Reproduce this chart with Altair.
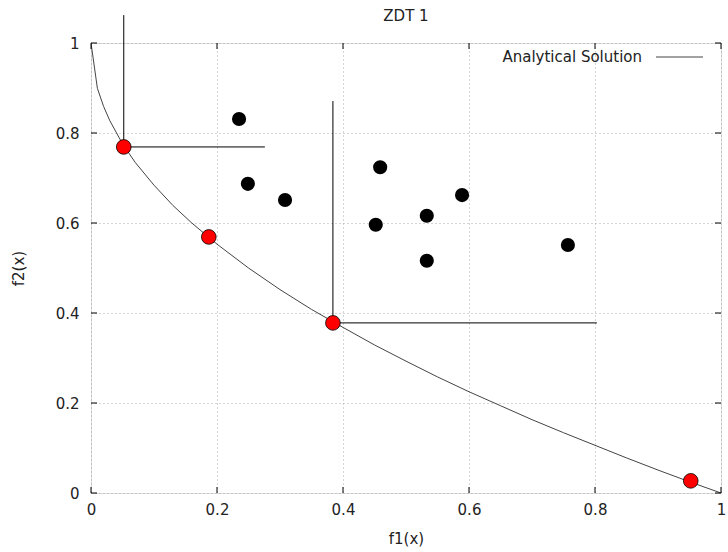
import altair as alt
import pandas as pd

FONT = "DejaVu Sans"
FS = 15
W, H = 630, 450
TICK = 6

# Analytical Pareto front of ZDT1 (f1, f2)
front_f1 = [0.0, 0.0101, 0.02, 0.03, 0.05, 0.07, 0.1, 0.13, 0.16, 0.2, 0.25, 0.3, 0.35,
            0.4, 0.45, 0.5, 0.55, 0.6, 0.65, 0.7, 0.75, 0.8, 0.85, 0.9, 0.95, 1.0]
front_f2 = [1.0, 0.8995, 0.859, 0.827, 0.776, 0.735, 0.684, 0.639, 0.6, 0.553, 0.5, 0.452, 0.408,
            0.368, 0.329, 0.293, 0.258, 0.225, 0.194, 0.163, 0.134, 0.106, 0.078, 0.051, 0.025, 0.0]

# Non-dominated solutions (red)
nd_f1 = [0.052, 0.187, 0.384, 0.952]
nd_f2 = [0.769, 0.569, 0.378, 0.027]

# Dominated solutions (black)
dom_f1 = [0.235, 0.249, 0.308, 0.459, 0.452, 0.533, 0.533, 0.589, 0.757]
dom_f2 = [0.831, 0.687, 0.651, 0.724, 0.596, 0.616, 0.516, 0.662, 0.551]

# Reference segments attached to two of the solutions
vseg_x = [0.052, 0.384]
vseg_y1 = [0.769, 0.378]
vseg_y2 = [1.062, 0.871]
hseg_y = [0.769, 0.378]
hseg_x1 = [0.052, 0.384]
hseg_x2 = [0.276, 0.803]

tick_vals = [0, 0.2, 0.4, 0.6, 0.8, 1.0]

front = pd.DataFrame({"f1": front_f1, "f2": front_f2})
nd = pd.DataFrame({"f1": nd_f1, "f2": nd_f2})
dom = pd.DataFrame({"f1": dom_f1, "f2": dom_f2})
vseg = pd.DataFrame({"x": vseg_x, "y1": vseg_y1, "y2": vseg_y2})
hseg = pd.DataFrame({"y": hseg_y, "x1": hseg_x1, "x2": hseg_x2})
ticks = pd.DataFrame({"v": tick_vals})

xs = alt.Scale(domain=[0, 1], nice=False, zero=False)
ys = alt.Scale(domain=[0, 1], nice=False, zero=False)

grid_common = dict(
    values=tick_vals, format="~g", grid=True, gridColor="#a8a8a8", gridDash=[1, 3],
    gridWidth=1, ticks=False, tickSize=0, domain=False, labelFlush=False,
    labelFont=FONT, labelFontSize=FS, labelColor="#222222",
    titleFont=FONT, titleFontSize=FS, titleFontWeight="normal", titleColor="#222222",
)

x_axis = alt.Axis(title="f1(x)", labelPadding=9, titleX=315, titleY=45,
                  titleBaseline="middle", **grid_common)
y_axis = alt.Axis(title="f2(x)", labelPadding=12, titleX=-73, titleY=225,
                  titleBaseline="middle", titleAlign="center", titleAngle=-90, **grid_common)

curve = alt.Chart(front).mark_line(color="#444444", strokeWidth=1, clip=True).encode(
    x=alt.X("f1:Q", scale=xs, axis=x_axis),
    y=alt.Y("f2:Q", scale=ys, axis=y_axis),
)

# inward tick marks on all four borders
rk = dict(color="black", strokeWidth=1)
ticks_bottom = alt.Chart(ticks).mark_rule(**rk).encode(
    x=alt.X("v:Q", scale=xs), y=alt.value(H), y2=alt.value(H - TICK))
ticks_top = alt.Chart(ticks).mark_rule(**rk).encode(
    x=alt.X("v:Q", scale=xs), y=alt.value(0), y2=alt.value(TICK))
ticks_left = alt.Chart(ticks).mark_rule(**rk).encode(
    y=alt.Y("v:Q", scale=ys), x=alt.value(0), x2=alt.value(TICK))
ticks_right = alt.Chart(ticks).mark_rule(**rk).encode(
    y=alt.Y("v:Q", scale=ys), x=alt.value(W), x2=alt.value(W - TICK))

vrules = alt.Chart(vseg).mark_rule(color="black", strokeWidth=1).encode(
    x=alt.X("x:Q", scale=xs), y=alt.Y("y1:Q", scale=ys), y2="y2:Q")
hrules = alt.Chart(hseg).mark_rule(color="black", strokeWidth=1).encode(
    y=alt.Y("y:Q", scale=ys), x=alt.X("x1:Q", scale=xs), x2="x2:Q")

dom_pts = alt.Chart(dom).mark_circle(color="black", size=200, opacity=1).encode(
    x=alt.X("f1:Q", scale=xs), y=alt.Y("f2:Q", scale=ys))
nd_pts = alt.Chart(nd).mark_point(
    shape="circle", filled=True, fill="#ff0000", stroke="black", strokeWidth=0.8,
    size=215, opacity=1).encode(x=alt.X("f1:Q", scale=xs), y=alt.Y("f2:Q", scale=ys))

# key entry in the top-right corner
key_df = pd.DataFrame({"label": ["Analytical Solution"]})
key_text = alt.Chart(key_df).mark_text(
    align="right", baseline="middle", font=FONT, fontSize=FS, color="#222222").encode(
    x=alt.value(551), y=alt.value(14), text="label:N")
key_line = alt.Chart(key_df).mark_rule(color="#444444", strokeWidth=1).encode(
    x=alt.value(565), x2=alt.value(612), y=alt.value(14))

title_df = pd.DataFrame({"t": ["ZDT 1"]})
title = alt.Chart(title_df).mark_text(
    align="center", baseline="middle", font=FONT, fontSize=FS, color="#222222").encode(
    x=alt.value(315), y=alt.value(-27), text="t:N")

chart = alt.layer(
    curve, ticks_bottom, ticks_top, ticks_left, ticks_right,
    vrules, hrules, dom_pts, nd_pts, key_text, key_line, title,
).properties(
    width=W, height=H,
    autosize=alt.AutoSizeParams(type="none"),
    padding={"left": 91, "top": 43, "right": 7, "bottom": 59},
).configure_view(
    stroke="black", strokeWidth=1,
).configure(background="white")

chart.save("out.html", embed_options={"renderer": "svg", "actions": False})
